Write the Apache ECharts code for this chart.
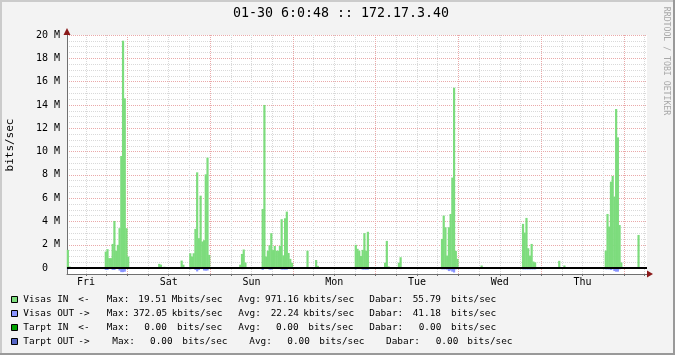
<!DOCTYPE html>
<html>
<head>
<meta charset="utf-8">
<script src="https://cdn.jsdelivr.net/npm/echarts@6/dist/echarts.min.js"></script>
<style>
html,body{margin:0;padding:0;background:#f3f3f3;}
#chart{width:675px;height:355px;}
</style>
</head>
<body>
<div id="chart"></div>
<script>
// ---------- DATA (hours from Fri 00:00, values in Mbit/s, one value per 30-min step) ----------
const titleText = '01-30 6:0:48 :: 172.17.3.40';
const yAxisName = 'bits/sec';
const watermark = 'RRDTOOL / TOBI OETIKER';
const dayLabels = ['Fri', 'Sat', 'Sun', 'Mon', 'Tue', 'Wed', 'Thu'];
const dayNoonHours = [12, 36, 60, 84, 108, 132, 156];

const inHours = [
  6.5, 7, 17.5, 18, 18.5, 19, 19.5, 20, 20.5, 21, 21.5, 22, 22.5, 23, 23.5, 24,
  33, 33.5, 34.5, 39.5, 40, 42, 42.5, 43, 43.5, 44, 44.5, 45, 45.5, 46, 46.5, 47, 47.5,
  56.5, 57, 57.5, 58, 63, 63.5, 64, 64.5, 65, 65.5, 66, 66.5, 67, 67.5, 68, 68.5, 69, 69.5, 70, 70.5, 71, 71.5,
  76, 78.5, 79, 90, 90.5, 91, 91.5, 92, 92.5, 93, 93.5, 98.5, 99, 99.5, 102.5, 103,
  115, 115.5, 116, 116.5, 117, 117.5, 118, 118.5, 119, 119.5,
  126.5, 138.5, 139, 139.5, 140, 140.5, 141, 141.5, 142, 149, 150.5,
  162.5, 163, 163.5, 164, 164.5, 165, 165.5, 166, 166.5, 167, 172
];
const inMbps = [
  1.57, 0.14, 1.42, 1.63, 0.86, 0.86, 2.08, 4.05, 1.5, 2.0, 3.43, 9.62, 19.51, 14.57, 3.43, 1.0,
  0.37, 0.3, 0.12, 0.65, 0.3, 1.28, 1.0, 1.28, 3.37, 8.22, 2.57, 6.22, 2.29, 2.4, 8.05, 9.48, 1.14,
  0.3, 1.22, 1.6, 0.48, 5.08, 14.0, 1.0, 1.5, 1.97, 3.0, 1.55, 1.9, 1.5, 1.5, 1.9, 4.2, 1.1, 4.28, 4.85, 1.3, 0.8, 0.46,
  1.5, 0.7, 0.2, 2.0, 1.66, 1.5, 1.05, 1.57, 3.0, 1.5, 3.12, 0.47, 2.34, 0.15, 0.47, 0.94,
  2.51, 4.51, 3.51, 1.08, 3.51, 4.65, 7.77, 15.48, 1.48, 0.8,
  0.23, 3.8, 3.05, 4.31, 1.71, 1.08, 2.08, 0.57, 0.5, 0.63, 0.23,
  1.51, 4.65, 3.57, 7.42, 7.91, 6.14, 13.65, 11.22, 3.7, 0.49, 2.85
];

const outHours = [
  6.5, 17.5, 18, 19.5, 20, 21.5, 22, 22.5, 23,
  42, 43.5, 44, 44.5, 46, 46.5, 47,
  57, 57.5, 63, 65, 65.5, 68.5, 69, 69.5, 70,
  90, 92, 92.5, 93, 93.5, 103,
  115, 115.5, 116, 116.5, 117, 117.5, 118, 118.5, 119,
  138.5, 139, 139.5, 140, 140.5, 141, 141.5, 142,
  162.5, 163, 163.5, 164, 164.5, 165, 165.5, 166, 166.5
];
const outMbps = [
  -0.1, -0.15, -0.15, -0.15, -0.15, -0.2, -0.34, -0.34, -0.3,
  -0.1, -0.15, -0.28, -0.15, -0.2, -0.22, -0.2,
  -0.08, -0.08, -0.15, -0.12, -0.12, -0.12, -0.12, -0.12, -0.12,
  -0.1, -0.12, -0.12, -0.12, -0.12, -0.08,
  -0.1, -0.1, -0.1, -0.12, -0.25, -0.2, -0.3, -0.372, -0.1,
  -0.1, -0.1, -0.1, -0.1, -0.1, -0.1, -0.1, -0.1,
  -0.1, -0.1, -0.1, -0.15, -0.1, -0.25, -0.3, -0.3, -0.1
];

const legendNames = ['Visas IN', 'Visas OUT', 'Tarpt IN', 'Tarpt OUT'];
const legendArrows = ['<-', '->', '<-', '->'];
const legendColors = ['#7ddc7d', '#8a94ff', '#00a000', '#5565c5'];
const maxValues = ['19.51', '372.05', '0.00', '0.00'];
const maxUnits = ['Mbits/sec', 'kbits/sec', 'bits/sec', 'bits/sec'];
const avgValues = ['971.16', '22.24', '0.00', '0.00'];
const avgUnits = ['kbits/sec', 'kbits/sec', 'bits/sec', 'bits/sec'];
const lastValues = ['55.79', '41.18', '0.00', '0.00'];
const lastUnits = ['bits/sec', 'bits/sec', 'bits/sec', 'bits/sec'];

// ---------- BUILD ----------
const X_MIN = 6.5, X_MAX = 174.7, STEP = 0.5;
const inData = inHours.map((h, i) => [h + STEP / 2, inMbps[i]]);
const outData = outHours.map((h, i) => [h + STEP / 2, outMbps[i]]);

const MONO = 'DejaVu Sans Mono';
const minorC = '#d9d9d9', majorC = '#eaa9a9', axisC = '#707070', arrowC = '#8b1a1a';
const GL = 67, GT = 35, GW = 580, GH = 239;
const pxPerHour = GW / (X_MAX - X_MIN);
const tickHours = [];
for (let h = 12; h <= 174; h += 6) tickHours.push(h);

const graphics = [];
graphics.push({type:'rect', shape:{x:0,y:0,width:675,height:2}, style:{fill:'#cbcbcb'}, silent:true});
graphics.push({type:'rect', shape:{x:0,y:0,width:2,height:355}, style:{fill:'#cbcbcb'}, silent:true});
graphics.push({type:'rect', shape:{x:0,y:353,width:675,height:2}, style:{fill:'#999999'}, silent:true});
graphics.push({type:'rect', shape:{x:673,y:0,width:2,height:355}, style:{fill:'#999999'}, silent:true});
graphics.push({type:'text', x:341, y:14, style:{text:titleText, font:'13.3px ' + MONO, fill:'#000', textAlign:'center', textVerticalAlign:'middle'}});
graphics.push({type:'text', x:10, y:145, rotation:Math.PI/2, style:{text:yAxisName, font:'11px ' + MONO, fill:'#000', textAlign:'center', textVerticalAlign:'middle'}});
graphics.push({type:'text', x:666, y:61, rotation:-Math.PI/2, style:{text:watermark, font:'8.2px ' + MONO, fill:'#a8a8a8', textAlign:'center', textVerticalAlign:'middle'}});

const colX = [
  [23.3, 78.3, 106.7, 138.3, 171.7, 238.3, 265.0, 303.3, 369.3, 412.7, 451.0],
  [23.3, 78.3, 106.7, 133.3, 171.7, 238.3, 270.7, 303.3, 369.3, 412.7, 451.0],
  [23.3, 78.3, 106.7, 144.3, 177.0, 238.3, 276.0, 308.3, 369.3, 418.7, 451.0],
  [23.3, 78.3, 112.3, 150.0, 182.3, 249.3, 287.3, 319.3, 386.0, 435.7, 467.3]
];
for (let i = 0; i < 4; i++) {
  const cy = 299.5 + 14 * i;
  graphics.push({type:'rect', shape:{x:11.5, y:Math.round(cy) - 3.5, width:6, height:6}, style:{fill:legendColors[i], stroke:'#000', lineWidth:1}});
  const tokens = [legendNames[i], legendArrows[i], 'Max:', maxValues[i], maxUnits[i], 'Avg:', avgValues[i], avgUnits[i], 'Dabar:', lastValues[i], lastUnits[i]];
  tokens.forEach((t, j) => {
    graphics.push({type:'text', x:colX[i][j], y:cy, style:{text:t, font:'9.4px ' + MONO, fill:'#000', textAlign:'left', textVerticalAlign:'middle'}});
  });
}

const chart = echarts.init(document.getElementById('chart'), null, {renderer:'canvas'});
chart.setOption({
  animation: false,
  backgroundColor: '#f3f3f3',
  grid: [
    {left:GL, top:GT, width:GW, height:GH, show:true, backgroundColor:'#ffffff', borderWidth:0, containLabel:false, outerBoundsMode:'none'},
    {left:GL + (12 - X_MIN) * pxPerHour, top:GT, width:GW - (12 - X_MIN) * pxPerHour, height:GH, show:false, containLabel:false, outerBoundsMode:'none'}
  ],
  xAxis: [
    {
      gridIndex:0, type:'value', position:'bottom', min:X_MIN, max:X_MAX,
      axisLine:{show:true, onZero:false, lineStyle:{color:axisC, width:1}},
      axisTick:{show:true, customValues:tickHours, length:2, lineStyle:{color:axisC}},
      axisLabel:{show:true, customValues:dayNoonHours, margin:3, color:'#000', fontFamily:MONO, fontSize:10,
        formatter: v => dayLabels[Math.round((v - 12) / 24)] || ''},
      splitLine:{show:false}
    },
    {
      gridIndex:1, type:'value', position:'bottom', min:12, max:X_MAX, interval:6,
      axisLine:{show:false}, axisTick:{show:false}, axisLabel:{show:false},
      splitLine:{show:true, showMaxLine:false, lineStyle:{color:[minorC, minorC, majorC, minorC], type:[1,1], width:1}}
    },
    {
      gridIndex:0, type:'value', position:'bottom', min:X_MIN, max:X_MAX,
      axisLine:{show:true, onZero:false, symbol:['none','triangle'], symbolSize:[7,6], symbolOffset:[0,3], lineStyle:{color:arrowC, width:0}},
      axisTick:{show:false}, axisLabel:{show:false}, splitLine:{show:false}
    }
  ],
  yAxis: [
    {
      gridIndex:0, type:'value', position:'left', min:-0.5, max:20, interval:0.5,
      axisLine:{show:true, onZero:false, lineStyle:{color:axisC, width:1}},
      axisTick:{show:false},
      axisLabel:{show:true, margin:7, color:'#000', fontFamily:MONO, fontSize:10,
        formatter: v => {
          if (v < -1e-9) return '';
          const r = v / 2;
          if (Math.abs(r - Math.round(r)) > 1e-6) return '';
          return Math.abs(v) < 1e-9 ? '0  ' : Math.round(v) + ' M';
        }},
      splitLine:{show:true, lineStyle:{color:[minorC, majorC, minorC, minorC], type:[1,1], width:1}}
    },
    {gridIndex:1, type:'value', min:0, max:1, show:false},
    {
      gridIndex:0, type:'value', position:'left', min:-0.5, max:20,
      axisLine:{show:true, onZero:false, symbol:['none','triangle'], symbolSize:[7,7], symbolOffset:[0,3.5], lineStyle:{color:arrowC, width:0}},
      axisTick:{show:false}, axisLabel:{show:false}, splitLine:{show:false}
    }
  ],
  series: [
    {
      name:'Visas IN', type:'bar', xAxisIndex:0, yAxisIndex:0, data:inData,
      barWidth: 2.2, barGap:'-100%',
      itemStyle:{color:legendColors[0]}, z:3,
      markLine:{silent:true, symbol:'none', label:{show:false}, lineStyle:{color:'#000', width:2, type:'solid'}, data:[{yAxis:0}]}
    },
    {
      name:'Visas OUT', type:'bar', xAxisIndex:0, yAxisIndex:0, data:outData,
      barWidth: 2.2, barGap:'-100%',
      itemStyle:{color:legendColors[1]}, z:3
    }
  ],
  graphic: graphics
});
</script>
</body>
</html>
